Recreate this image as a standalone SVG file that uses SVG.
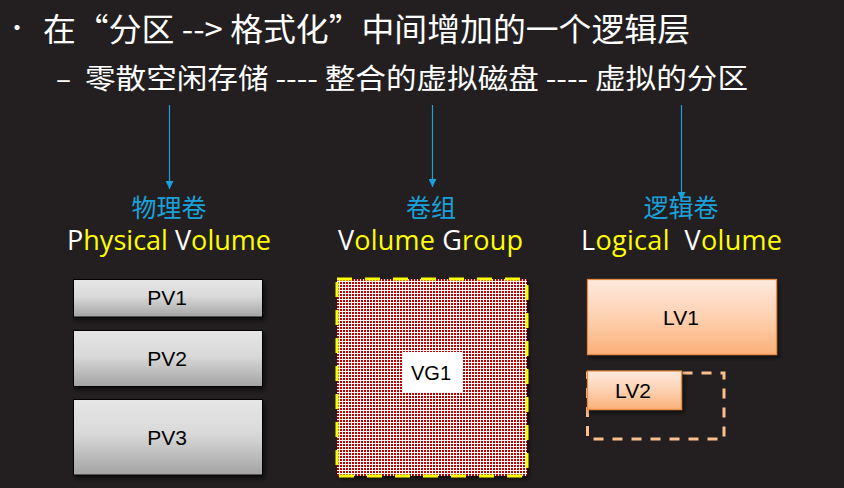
<svg xmlns="http://www.w3.org/2000/svg" width="844" height="488" viewBox="0 0 844 488">
<defs>
<style>
.cjk{font-family:"Microsoft YaHei","Noto Sans CJK SC",sans-serif}
.lat{font-family:"Open Sans","Noto Sans CJK SC",sans-serif}
.lbl{font-family:"Liberation Sans","Noto Sans",sans-serif;fill:#000;text-anchor:middle}
.conn{stroke:#1ba1da;stroke-width:1.2;fill:none}
.w{fill:#ffffff}.y{fill:#ffff00}
.cyan{fill:#1ba1da}
</style>
<linearGradient id="gGray" x1="0" y1="0" x2="0" y2="1">
<stop offset="0" stop-color="#e6e6e6"/><stop offset="0.45" stop-color="#d9d9d9"/><stop offset="1" stop-color="#a3a3a3"/>
</linearGradient>
<linearGradient id="gOr" x1="0" y1="0" x2="0" y2="1">
<stop offset="0" stop-color="#fee9de"/><stop offset="0.5" stop-color="#fdd1b1"/><stop offset="1" stop-color="#fbb078"/>
</linearGradient>
<pattern id="grid" width="3" height="3" patternUnits="userSpaceOnUse" x="337" y="279">
<rect width="3" height="3" fill="#ffffff" shape-rendering="crispEdges"/><rect width="2" height="2" fill="#c00000" shape-rendering="crispEdges"/>
</pattern>
<filter id="sh" x="-10%" y="-10%" width="130%" height="140%">
<feDropShadow dx="2" dy="3" stdDeviation="2" flood-color="#000" flood-opacity="0.6"/>
</filter>
<marker id="arr" viewBox="0 0 10 10" refX="10" refY="5" markerWidth="8" markerHeight="8" markerUnits="userSpaceOnUse" orient="auto">
<path d="M0,0 L10,5 L0,10 z" fill="#1ba1da"/>
</marker>
</defs>
<rect width="844" height="488" fill="#231f20"/>

<g id="title">
<text x="5" y="36" class="cjk w" font-size="24">•</text>
<text x="43" y="41" class="cjk w" font-size="32" textLength="647" lengthAdjust="spacingAndGlyphs">在“分区 --&gt; 格式化”中间增加的一个逻辑层</text>
<text x="56" y="89" class="cjk w" font-size="28">–</text>
<text x="85" y="89" class="cjk w" font-size="28" textLength="663" lengthAdjust="spacingAndGlyphs">零散空闲存储 ---- 整合的虚拟磁盘 ---- 虚拟的分区</text>
</g>

<g id="connectors">
<line class="conn" x1="169.5" y1="105" x2="169.5" y2="189" marker-end="url(#arr)"/>
<line class="conn" x1="432.5" y1="105" x2="432.5" y2="187" marker-end="url(#arr)"/>
<line class="conn" x1="681.5" y1="105" x2="681.5" y2="200" marker-end="url(#arr)"/>
</g>

<g id="pv-label">
<text x="169" y="217" class="cjk cyan" font-size="25" text-anchor="middle">物理卷</text>
<text x="67" y="250" class="lat" font-size="27" textLength="204"><tspan class="w">P</tspan><tspan class="y">hysical </tspan><tspan class="w">V</tspan><tspan class="y">olume</tspan></text>
</g>
<g id="vg-label">
<text x="431" y="217" class="cjk cyan" font-size="25" text-anchor="middle">卷组</text>
<text x="338" y="250" class="lat" font-size="27" textLength="185"><tspan class="w">V</tspan><tspan class="y">olume </tspan><tspan class="w">G</tspan><tspan class="y">roup</tspan></text>
</g>
<g id="lv-label">
<text x="681" y="217" class="cjk cyan" font-size="25" text-anchor="middle">逻辑卷</text>
<text x="581" y="250" class="lat" font-size="27" xml:space="preserve" textLength="201"><tspan class="w">L</tspan><tspan class="y">ogical  </tspan><tspan class="w">V</tspan><tspan class="y">olume</tspan></text>
</g>

<g id="pv1">
<rect x="73.5" y="279.5" width="189" height="37.5" fill="url(#gGray)" stroke="#000" stroke-width="1" filter="url(#sh)"/>
<text x="167" y="305" class="lbl" font-size="21">PV1</text>
</g>
<g id="pv2">
<rect x="73.5" y="330.5" width="189" height="56" fill="url(#gGray)" stroke="#000" stroke-width="1" filter="url(#sh)"/>
<text x="167" y="366" class="lbl" font-size="21">PV2</text>
</g>
<g id="pv3">
<rect x="73.5" y="399.5" width="189" height="75.5" fill="url(#gGray)" stroke="#000" stroke-width="1" filter="url(#sh)"/>
<text x="167" y="445" class="lbl" font-size="21">PV3</text>
</g>

<g id="vg1">
<rect x="337" y="279" width="190" height="197" fill="#000" filter="url(#sh)"/>
<rect x="337" y="279" width="190" height="197" fill="url(#grid)"/>
<rect x="337" y="279" width="190" height="197" fill="none" stroke="#ffff00" stroke-width="3" stroke-dasharray="15 13"/>
<rect x="402" y="352" width="60" height="40.5" fill="#ffffff"/>
<text x="431" y="380" class="lbl" font-size="20">VG1</text>
</g>

<g id="lv1">
<rect x="587.5" y="279.5" width="189" height="75" fill="url(#gOr)" stroke="#e58b45" stroke-width="1.2" filter="url(#sh)"/>
<text x="681" y="325" class="lbl" font-size="21">LV1</text>
</g>
<g id="lv2">
<rect x="587.5" y="373" width="136.5" height="66" fill="none" stroke="#fbbf8f" stroke-width="3" stroke-dasharray="10 9"/>
<rect x="587.5" y="371" width="94" height="38.5" fill="url(#gOr)" stroke="#e58b45" stroke-width="1.2" filter="url(#sh)"/>
<text x="633" y="398" class="lbl" font-size="21">LV2</text>
</g>
</svg>
